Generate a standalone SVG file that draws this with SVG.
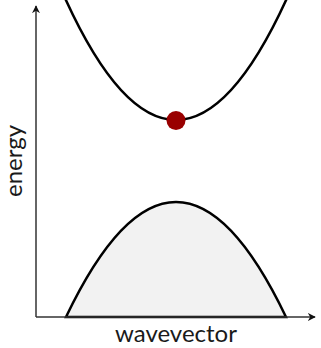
<svg xmlns="http://www.w3.org/2000/svg" width="321" height="348" viewBox="0 0 321 348">
<defs>
<marker id="arr" viewBox="0 0 10 10" refX="9" refY="5" markerWidth="8" markerHeight="8" markerUnits="userSpaceOnUse" orient="auto">
<path d="M0,0 L10,5 L0,10 L3,5 Z" fill="#111"/>
</marker>
</defs>
<style>
.axis{stroke:#333;stroke-width:1.5;fill:none}
.band{stroke:#000;stroke-width:2.5}
.lbl{font-family:Lato,"Liberation Sans",sans-serif;font-size:24px;fill:#1a1a1a}
</style>
<rect width="321" height="348" fill="#fff"/>
<g id="valence-band">
<path class="band" d="M66,317 Q176,87 286,317 Z" fill="#f2f2f2"/>
</g>
<g id="conduction-band">
<path class="band" d="M63.6,-5 Q176,245 288.4,-5" fill="none"/>
</g>
<g id="electron">
<circle cx="176" cy="120.5" r="9.5" fill="#990000"/>
</g>
<g id="connectors">
<line class="axis" x1="36" y1="317" x2="36" y2="6" marker-end="url(#arr)"/>
<line class="axis" x1="36" y1="317" x2="315" y2="317" marker-end="url(#arr)"/>
</g>
<g id="labels">
<text class="lbl" x="176" y="342" text-anchor="middle">wavevector</text>
<text class="lbl" transform="translate(22,161) rotate(-90)" text-anchor="middle">energy</text>
</g>
</svg>
